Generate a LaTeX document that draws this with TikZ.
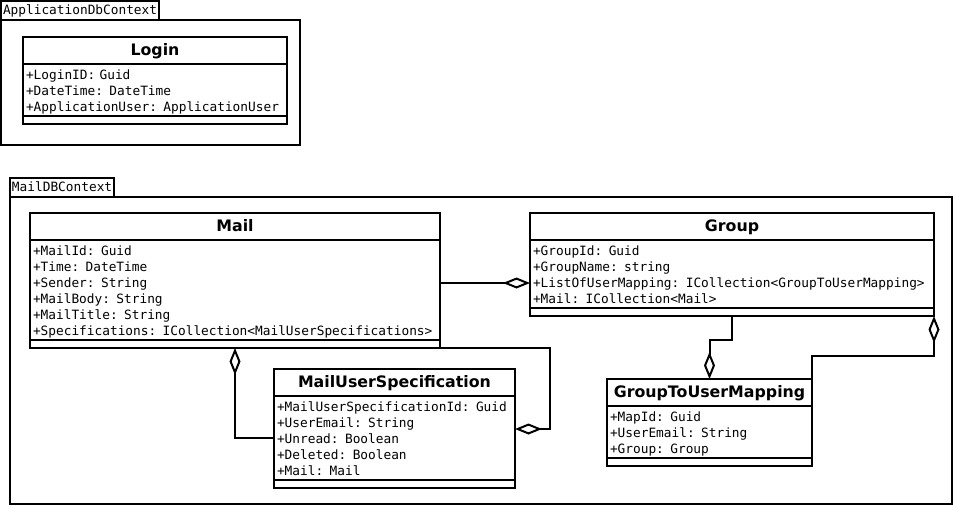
\documentclass[tikz,border=0pt]{standalone}
\usepackage{fontspec}
\setmainfont{DejaVu Sans}
\newfontfamily\umlmono{DejaVu Sans Mono}[WordSpace={1,0,0}]
\usetikzlibrary{arrows.meta, positioning}
\tikzset{aggtip/.tip={Diamond[open, length=27pt, width=11pt]}}

\begin{document}
\begin{tikzpicture}[
    x=1pt, y=-1pt,
    pkgbody/.style={draw, line width=2pt, anchor=north west, inner sep=0pt, outer sep=0pt},
    pkgtab/.style={draw, line width=2pt, minimum height=19pt, text height=10pt, text depth=3pt, inner xsep=2pt, inner ysep=0pt, outer sep=0pt, font=\umlmono\fontsize{12.8}{16}\selectfont},
    classtitle/.style={draw, fill=white, line width=2pt, anchor=north west, minimum height=27pt, text height=12pt, text depth=3pt, inner sep=0pt, outer sep=0pt, font=\fontsize{15.8}{18}\selectfont\bfseries},
    classattr/.style={draw, fill=white, line width=2pt, minimum height=#1*16pt+4pt, inner xsep=3pt, inner ysep=0pt, outer sep=0pt, align=left, font=\umlmono\fontsize{12.8}{16}\selectfont,
        execute at begin node={\rule{0pt}{13.5pt}}, execute at end node={\rule[-2.5pt]{0pt}{2.5pt}}},
    classops/.style={draw, fill=white, line width=2pt, minimum height=8pt, inner sep=0pt, outer sep=0pt},
    conn/.style={line width=2pt}
]
    \useasboundingbox (0,0) rectangle (954,507);

    % packages
    \node[pkgbody, minimum width=299pt, minimum height=125pt] (appctx) at (1,20) {};
    \node[pkgtab, above right=0pt and 0pt of appctx.north west] (apptab) {ApplicationDbContext};
    \node[pkgbody, minimum width=942pt, minimum height=307pt] (mailctx) at (10,197) {};
    \node[pkgtab, above right=0pt and 0pt of mailctx.north west] (mailtab) {MailDBContext};

    % Login
    \node[classtitle, minimum width=264pt] (logintitle) at (23,37) {Login};
    \node[classattr=3, text width=258pt, below=0pt of logintitle] (loginattr)
        {+LoginID: Guid\\+DateTime: DateTime\\+ApplicationUser: ApplicationUser};
    \node[classops, minimum width=264pt, below=0pt of loginattr] (loginops) {};

    % Mail
    \node[classtitle, minimum width=410pt] (mailtitle) at (30,213) {Mail};
    \node[classattr=6, text width=404pt, below=0pt of mailtitle] (mailattr)
        {+MailId: Guid\\+Time: DateTime\\+Sender: String\\+MailBody: String\\+MailTitle: String\\+Specifications: ICollection<MailUserSpecifications>};
    \node[classops, minimum width=410pt, below=0pt of mailattr] (mailops) {};

    % Group
    \node[classtitle, minimum width=404pt] (grouptitle) at (530,213) {Group};
    \node[classattr=4, text width=398pt, below=0pt of grouptitle] (groupattr)
        {+GroupId: Guid\\+GroupName: string\\+ListOfUserMapping: ICollection<GroupToUserMapping>\\+Mail: ICollection<Mail>};
    \node[classops, minimum width=404pt, below=0pt of groupattr] (groupops) {};

    % MailUserSpecification
    \node[classtitle, minimum width=241pt] (mustitle) at (274,369) {MailUserSpecification};
    \node[classattr=5, text width=235pt, below=0pt of mustitle] (musattr)
        {+MailUserSpecificationId: Guid\\+UserEmail: String\\+Unread: Boolean\\+Deleted: Boolean\\+Mail: Mail};
    \node[classops, minimum width=241pt, below=0pt of musattr] (musops) {};

    % GroupToUserMapping
    \node[classtitle, minimum width=205pt] (gtumtitle) at (607,379) {GroupToUserMapping};
    \node[classattr=3, text width=199pt, below=0pt of gtumtitle] (gtumattr)
        {+MapId: Guid\\+UserEmail: String\\+Group: Group};
    \node[classops, minimum width=205pt, below=0pt of gtumattr] (gtumops) {};

    % aggregations
    \coordinate (mailout) at ([yshift=7pt]mailattr.east);
    \coordinate (musin) at ([yshift=9pt]musattr.east);
    \draw[conn, -aggtip] (mailout) -- (mailout -| groupattr.west);
    \draw[conn, aggtip-] (mailops.south) |- (musattr.west);
    \draw[conn, -aggtip] (mailops.south east) -- ++(110,0) |- (musin);
    \draw[conn, -aggtip] (groupops.south) -- ++(0,24) -| (gtumtitle.north);
    \draw[conn, -aggtip] (gtumtitle.north east) -- ++(0,-23) -| (groupops.south east);
\end{tikzpicture}
\end{document}
